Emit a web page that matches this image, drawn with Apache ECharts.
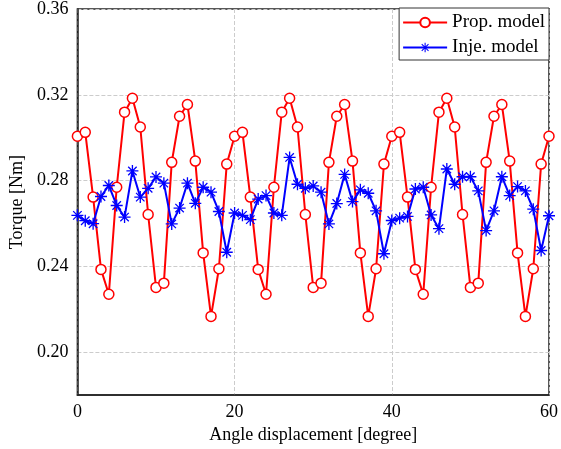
<!DOCTYPE html>
<html>
<head>
<meta charset="utf-8">
<script src="https://cdn.jsdelivr.net/npm/echarts@6/dist/echarts.min.js"></script>
<style>
html, body { margin: 0; padding: 0; background: #fff; }
#main { width: 561px; height: 449px; }
</style>
</head>
<body>
<div id="main"></div>
<script>
var chart = echarts.init(document.getElementById('main'));

var angle = [0, 1, 2, 3, 4, 5, 6, 7, 8, 9, 10, 11, 12, 13, 14, 15, 16, 17, 18, 19,
    20, 21, 22, 23, 24, 25, 26, 27, 28, 29, 30, 31, 32, 33, 34, 35, 36, 37, 38, 39,
    40, 41, 42, 43, 44, 45, 46, 47, 48, 49, 50, 51, 52, 53, 54, 55, 56, 57, 58, 59, 60];

var prop_model = [0.3007, 0.3025, 0.2723, 0.2386, 0.2270, 0.2769, 0.3119, 0.3184, 0.3050, 0.2642,
    0.2302, 0.2322, 0.2885, 0.3100, 0.3155, 0.2891, 0.2463, 0.2167, 0.2389, 0.2877,
    0.3007, 0.3025, 0.2723, 0.2386, 0.2270, 0.2769, 0.3119, 0.3184, 0.3050, 0.2642,
    0.2302, 0.2322, 0.2885, 0.3100, 0.3155, 0.2891, 0.2463, 0.2167, 0.2389, 0.2877,
    0.3007, 0.3025, 0.2723, 0.2386, 0.2270, 0.2769, 0.3119, 0.3184, 0.3050, 0.2642,
    0.2302, 0.2322, 0.2885, 0.3100, 0.3155, 0.2891, 0.2463, 0.2167, 0.2389, 0.2877, 0.3007];

var inje_model = [0.2638, 0.2613, 0.2599, 0.2726, 0.2777, 0.2684, 0.2630, 0.2845, 0.2723, 0.2764,
    0.2817, 0.2788, 0.2598, 0.2672, 0.2788, 0.2694, 0.2769, 0.2746, 0.2656, 0.2466,
    0.2649, 0.2638, 0.2618, 0.2714, 0.2730, 0.2649, 0.2638, 0.2908, 0.2783, 0.2764,
    0.2775, 0.2746, 0.2598, 0.2693, 0.2829, 0.2702, 0.2757, 0.2741, 0.2659, 0.2459,
    0.2614, 0.2625, 0.2633, 0.2761, 0.2769, 0.2640, 0.2576, 0.2854, 0.2783, 0.2818,
    0.2818, 0.2752, 0.2567, 0.2659, 0.2818, 0.2730, 0.2772, 0.2752, 0.2667, 0.2474, 0.2636];

var y_ticks = [0.20, 0.24, 0.28, 0.32, 0.36];

function pairs(xs, ys) {
    var out = [];
    for (var i = 0; i < xs.length; i++) out.push([xs[i], ys[i]]);
    return out;
}

// asterisk: + and x bars
var star = 'path://M-1.1,-10L1.1,-10L1.1,10L-1.1,10Z' +
    'M-10,-1.1L10,-1.1L10,1.1L-10,1.1Z' +
    'M-6.3,-7.8L7.8,6.3L6.3,7.8L-7.8,-6.3Z' +
    'M6.3,-7.8L7.8,-6.3L-6.3,7.8L-7.8,6.3Z';

var font = 'Liberation Serif';

chart.setOption({
    animation: false,
    backgroundColor: '#fff',
    textStyle: { fontFamily: font },
    grid: {
        left: 72, right: 9, top: 8, bottom: 52,
        show: true, borderColor: '#222', borderWidth: 1.5
    },
    legend: {
        orient: 'vertical',
        right: 12, top: 8,
        itemWidth: 44, itemHeight: 12, itemGap: 6,
        padding: [5, 4, 3, 3],
        backgroundColor: '#fff',
        borderColor: '#333', borderWidth: 1,
        textStyle: { fontFamily: font, fontSize: 19, color: '#000' },
        data: ['Prop. model', 'Inje. model']
    },
    xAxis: {
        type: 'value', min: 0, max: 60, interval: 20,
        name: 'Angle displacement [degree]',
        nameLocation: 'middle', nameGap: 26,
        nameTextStyle: { fontFamily: font, fontSize: 18, color: '#000' },
        axisLine: { show: true, lineStyle: { color: '#222', width: 1.5 } },
        axisTick: { show: false },
        axisLabel: { fontFamily: font, fontSize: 18, color: '#000', margin: 8 },
        splitLine: { show: true, lineStyle: { type: 'dashed', color: '#ccc', width: 1 } }
    },
    yAxis: {
        type: 'value', min: 0.18, max: 0.36, interval: 0.02,
        name: 'Torque [Nm]',
        nameLocation: 'middle', nameGap: 48,
        nameTextStyle: { fontFamily: font, fontSize: 18, color: '#000' },
        axisLine: { show: true, lineStyle: { color: '#222', width: 1.5 } },
        axisTick: { show: false },
        axisLabel: {
            fontFamily: font, fontSize: 18, color: '#000', margin: 9,
            customValues: y_ticks,
            formatter: function (v) { return v.toFixed(2); }
        },
        // only every other 0.02 line is visible -> grid at 0.20, 0.24, ...
        splitLine: { show: true, lineStyle: { type: 'dashed', color: ['rgba(0,0,0,0)', '#ccc'], width: 1 } }
    },
    series: [
        {
            name: 'Prop. model',
            type: 'line',
            data: pairs(angle, prop_model),
            symbol: 'circle',
            symbolSize: 10,
            lineStyle: { color: '#ff0000', width: 2 },
            itemStyle: { color: '#fff', borderColor: '#ff0000', borderWidth: 1.5 },
            z: 2
        },
        {
            name: 'Inje. model',
            type: 'line',
            data: pairs(angle, inje_model),
            symbol: star,
            symbolSize: 12,
            symbolKeepAspect: true,
            lineStyle: { color: '#0000ff', width: 2 },
            itemStyle: { color: '#0000ff' },
            z: 3
        }
    ]
});
</script>
</body>
</html>
